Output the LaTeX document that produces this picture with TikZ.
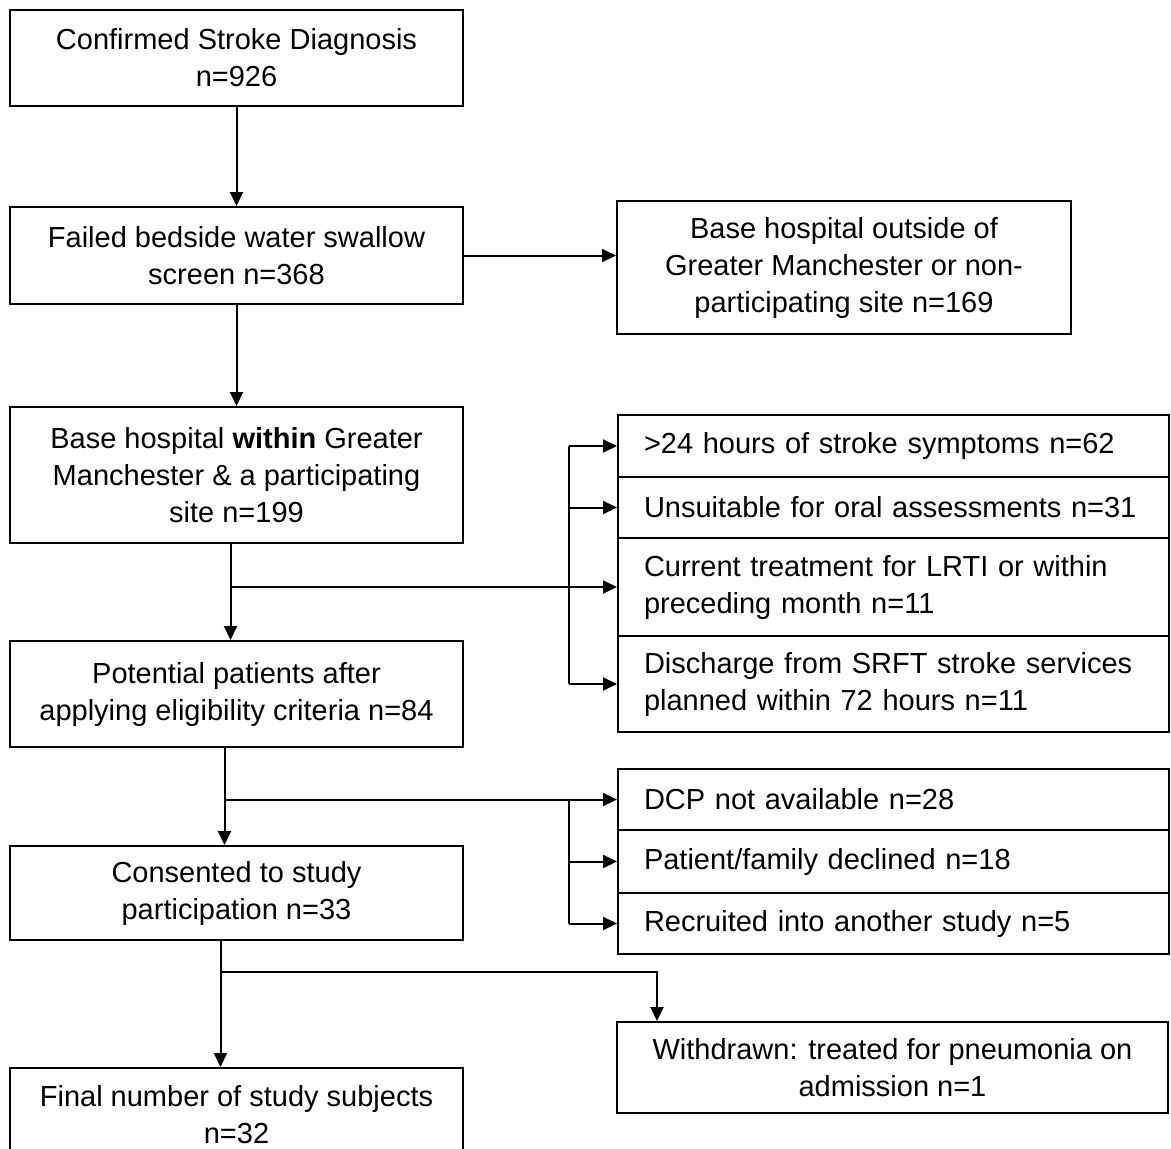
\documentclass[tikz,border=0pt]{standalone}
\usepackage{fontspec}
\setmainfont{Liberation Sans}
\usetikzlibrary{arrows.meta}

\begin{document}
\begin{tikzpicture}[x=1pt,y=-1pt,line width=2pt,
  every node/.style={font=\fontsize{29}{37}\selectfont},
  box/.style={draw,align=center,minimum width=453pt,inner sep=0pt},
  stackbox/.style={draw,anchor=west,align=left,text width=499pt,inner xsep=26pt,inner ysep=0pt},
  arr/.style={-{Triangle[length=14pt,width=13pt]}}]

\useasboundingbox (0,0) rectangle (1171,1149);
\clip (0,0) rectangle (1171,1149);

% main column
\node[box,minimum height=96pt] (diag) at (236.5,58) {Confirmed Stroke Diagnosis\\n=926};
\node[box,minimum height=97pt] (swallow) at (236.5,255.5) {Failed bedside water swallow\\screen n=368};
\node[box,minimum height=136pt] (within) at (236.5,475) {Base hospital \textbf{within} Greater\\Manchester \& a participating\\site n=199};
\node[box,minimum height=106pt] (potential) at (236.5,694) {Potential patients after\\applying eligibility criteria n=84};
\node[box,minimum height=94pt] (consent) at (236.5,893) {Consented to study\\participation n=33};
\node[box,minimum height=94pt] (final) at (236.5,1115) {Final number of study subjects\\n=32};

% exclusions
\node[box,minimum width=454pt,minimum height=133pt] (outside) at (844,267.5) {Base hospital outside of\\Greater Manchester or non-\\participating site n=169};

\node[stackbox,minimum height=62pt] (hours) at (617,446) {>24 hours of stroke symptoms n=62};
\node[stackbox,minimum height=61pt] (oral) at (617,507.5) {Unsuitable for oral assessments n=31};
\node[stackbox,minimum height=98pt] (lrti) at (617,587) {Current treatment for LRTI or within\\preceding month n=11};
\node[stackbox,minimum height=96pt] (discharge) at (617,684) {Discharge from SRFT stroke services\\planned within 72 hours n=11};

\node[stackbox,minimum height=61pt] (dcp) at (617,799.5) {DCP not available n=28};
\node[stackbox,minimum height=63pt] (declined) at (617,861.5) {Patient/family declined n=18};
\node[stackbox,minimum height=61pt] (another) at (617,923.5) {Recruited into another study n=5};

\node[box,minimum width=551pt,minimum height=91pt] (withdrawn) at (892.5,1067.5) {Withdrawn: treated for pneumonia on\\admission n=1};

% connectors
\coordinate (wdown) at ([xshift=-6pt]within.south);
\coordinate (pdown) at ([xshift=-12pt]potential.south);
\coordinate (cdown) at ([xshift=-16pt]consent.south);
\coordinate (bus) at (569,0);
\coordinate (wturn) at (657,972);

\draw[arr] (diag) -- (swallow);
\draw[arr] (swallow) -- (within);
\draw[arr] (swallow.east) -- (swallow.east -| outside.west);

\draw[arr] (wdown) -- (wdown |- potential.north);
\draw[arr] (wdown |- lrti.west) -- (lrti.west);
\draw (bus |- hours.west) -- (bus |- discharge.west);
\foreach \n in {hours,oral,discharge}
  \draw[arr] (bus |- \n.west) -- (\n.west);

\draw[arr] (pdown) -- (pdown |- consent.north);
\draw[arr] (pdown |- dcp.west) -- (dcp.west);
\draw (bus |- dcp.west) -- (bus |- another.west);
\foreach \n in {declined,another}
  \draw[arr] (bus |- \n.west) -- (\n.west);

\draw[arr] (cdown) -- (cdown |- final.north);
\draw[arr] (cdown |- wturn) -- (wturn) -- (wturn |- withdrawn.north);
\end{tikzpicture}
\end{document}
